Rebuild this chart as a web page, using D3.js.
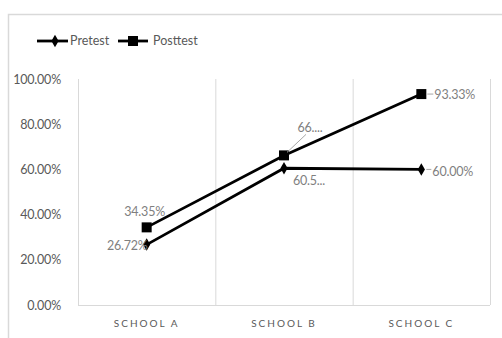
<!DOCTYPE html>
<html><head><meta charset="utf-8">
<script src="https://cdn.jsdelivr.net/npm/d3@7"></script>
<style>body{margin:0;background:#fff}svg{display:block}text{font-family:Lato,sans-serif}</style>
</head><body><svg id="c" width="502" height="338"></svg>
<script>
const categories = ["SCHOOL A","SCHOOL B","SCHOOL C"];
const pretest = [26.72, 60.5, 60.00];
const posttest = [34.35, 66.2, 93.33];
const pretestLabels = ["26.72%","60.5...","60.00%"];
const posttestLabels = ["34.35%","66....","93.33%"];
const yTicks = [0,20,40,60,80,100];

const svg = d3.select("#c");
const L=78, R=490, T=79, B=305;
svg.append("rect").attr("x",8.5).attr("y",14.5).attr("width",600).attr("height",400)
  .attr("fill","none").attr("stroke","#d9d9d9").attr("stroke-width",1.5);

const x = d3.scaleBand().domain(categories).range([L,R]);
const y = d3.scaleLinear().domain([0,100]).range([B,T]);

const bounds = categories.map(c=>x(c)).concat([R]);
svg.append("g").selectAll("line").data(bounds).join("line")
  .attr("x1",d=>d+0.5).attr("x2",d=>d+0.5).attr("y1",T).attr("y2",B)
  .attr("stroke","#d9d9d9").attr("stroke-width",1);
svg.append("line").attr("x1",L).attr("x2",R).attr("y1",B+0.5).attr("y2",B+0.5)
  .attr("stroke","#d9d9d9");

const ya = svg.append("g").attr("transform",`translate(${L-14},0)`)
  .call(d3.axisLeft(y).tickValues(yTicks).tickSize(0).tickFormat(d=>d.toFixed(2)+"%"));
ya.select(".domain").remove();
ya.selectAll("text").attr("fill","#595959").style("font-size","12.5px").style("font-family","Lato").attr("dx",0).attr("letter-spacing","-0.2px");

const xa = svg.append("g").attr("transform",`translate(0,${B+12})`)
  .call(d3.axisBottom(x).tickSize(0));
xa.select(".domain").remove();
xa.selectAll("text").attr("fill","#595959").style("font-size","10px").style("font-family","Lato").attr("letter-spacing","2px");

const cx = c=>x(c)+x.bandwidth()/2;
const line = d3.line().x((d,i)=>cx(categories[i])).y(d=>y(d));

svg.append("path").datum(pretest).attr("d",line).attr("fill","none").attr("stroke","#000").attr("stroke-width",2.8);
svg.append("path").datum(posttest).attr("d",line).attr("fill","none").attr("stroke","#000").attr("stroke-width",2.8);

const diamond = d3.symbol().type(d3.symbolDiamond).size(45);
svg.append("g").selectAll("path").data(pretest).join("path")
  .attr("d",diamond).attr("transform",(d,i)=>`translate(${cx(categories[i])},${y(d)})`).attr("fill","#000");
svg.append("g").selectAll("rect").data(posttest).join("rect")
  .attr("x",(d,i)=>cx(categories[i])-5).attr("y",d=>y(d)-5).attr("width",10).attr("height",10).attr("fill","#000");

function label(tx,ty,t,anchor){
  svg.append("text").attr("x",tx).attr("y",ty).attr("text-anchor",anchor||"middle")
    .attr("fill","#7f7f7f").style("font-size","12.5px").attr("letter-spacing","-0.2px").text(t);
}
svg.append("line").attr("x1",cx(categories[1])+3).attr("y1",y(posttest[1])-3).attr("x2",cx(categories[1])+22).attr("y2",y(posttest[1])-21).attr("stroke","#a6a6a6");
svg.append("line").attr("x1",cx(categories[2])+6).attr("y1",y(posttest[2])).attr("x2",cx(categories[2])+12).attr("y2",y(posttest[2])).attr("stroke","#a6a6a6");
svg.append("line").attr("x1",cx(categories[2])+5).attr("y1",y(pretest[2])).attr("x2",cx(categories[2])+10).attr("y2",y(pretest[2])).attr("stroke","#a6a6a6");

label(cx(categories[0])-2, y(posttest[0])-11, posttestLabels[0]);
label(cx(categories[0])+1, y(pretest[0])+5, pretestLabels[0], "end");
label(cx(categories[1])+25, y(pretest[1])+17, pretestLabels[1]);
label(cx(categories[1])+26, y(posttest[1])-23, posttestLabels[1]);
label(cx(categories[2])+13, y(posttest[2])+5, posttestLabels[2], "start");
label(cx(categories[2])+11, y(pretest[2])+7, pretestLabels[2], "start");

const lg = svg.append("g");
lg.append("line").attr("x1",37).attr("x2",68).attr("y1",41).attr("y2",41).attr("stroke","#000").attr("stroke-width",2.8);
lg.append("path").attr("d",diamond).attr("transform","translate(55,41)");
lg.append("text").attr("x",70).attr("y",45).attr("fill","#595959").style("font-size","12.5px").text("Pretest");
lg.append("line").attr("x1",118).attr("x2",148).attr("y1",41).attr("y2",41).attr("stroke","#000").attr("stroke-width",2.8);
lg.append("rect").attr("x",128).attr("y",36).attr("width",10).attr("height",10);
lg.append("text").attr("x",153).attr("y",45).attr("fill","#595959").style("font-size","12.5px").text("Posttest");
</script></body></html>
